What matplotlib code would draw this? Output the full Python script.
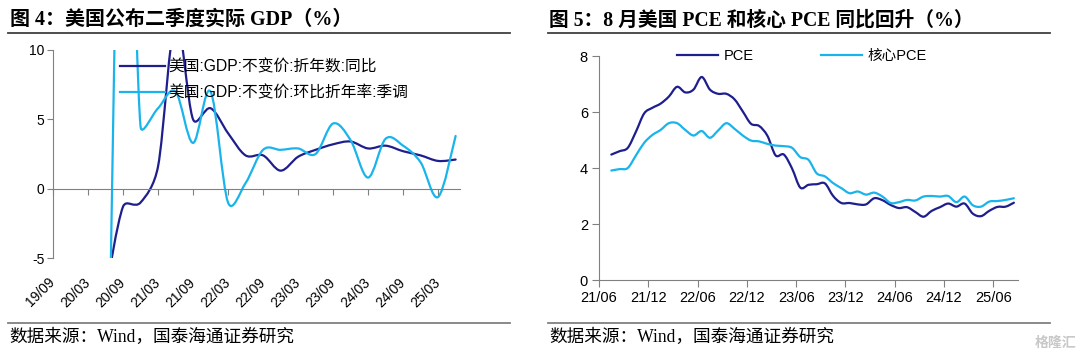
import numpy as np
import matplotlib
matplotlib.use('Agg')
import matplotlib.pyplot as plt
from matplotlib.path import Path
from matplotlib.patches import PathPatch
from matplotlib.lines import Line2D

# ---- left chart data: quarterly, 19/09 .. 25/06 ----
quarters = ['19/09', '19/12', '20/03', '20/06', '20/09', '20/12', '21/03', '21/06',
            '21/09', '21/12', '22/03', '22/06', '22/09', '22/12', '23/03', '23/06',
            '23/09', '23/12', '24/03', '24/06', '24/09', '24/12', '25/03', '25/06']
gdp_yoy = [np.nan, np.nan, np.nan, -7.5, -1.3, -1.0, 1.6, 12.1,
           5.0, 5.8, 4.0, 2.4, 2.4, 1.3, 2.3, 2.8,
           3.2, 3.4, 2.9, 3.1, 2.7, 2.4, 2.0, 2.1]
gdp_saar = [np.nan, np.nan, np.nan, -28.0, 34.8, 4.5, 5.8, 7.0,
            3.3, 7.0, -1.0, 0.4, 2.8, 2.8, 2.9, 2.5,
            4.7, 3.5, 0.8, 3.6, 3.1, 1.9, -0.6, 3.8]
gdp_names = ['美国:GDP:不变价:折年数:同比', '美国:GDP:不变价:环比折年率:季调']

# ---- right chart data: monthly, 2021/07 .. 2025/08 ----
months = ['%02d/%02d' % (21 + (6 + i) // 12, (6 + i) % 12 + 1) for i in range(50)]
pce = [4.48, 4.6, 4.72, 5.3, 5.95, 6.15, 6.3, 6.55, 6.9, 6.7,
       6.8, 7.25, 6.8, 6.65, 6.65, 6.45, 6.02, 5.58, 5.5, 5.15,
       4.45, 4.48, 3.98, 3.3, 3.4, 3.42, 3.45, 3.0, 2.75, 2.75,
       2.7, 2.7, 2.92, 2.85, 2.68, 2.57, 2.6, 2.43, 2.26, 2.47,
       2.6, 2.73, 2.62, 2.73, 2.37, 2.28, 2.47, 2.61, 2.62, 2.76]
core_pce = [3.91, 3.96, 4.0, 4.45, 4.9, 5.18, 5.36, 5.6, 5.6, 5.36,
            5.16, 5.32, 5.08, 5.34, 5.6, 5.4, 5.16, 4.98, 4.95, 4.86,
            4.8, 4.78, 4.72, 4.39, 4.29, 3.81, 3.7, 3.46, 3.28, 3.1,
            3.16, 3.05, 3.12, 2.98, 2.75, 2.78, 2.86, 2.84, 2.98, 3.0,
            2.98, 3.0, 2.78, 2.98, 2.67, 2.62, 2.8, 2.82, 2.86, 2.92]
pce_ticks = ['21/06', '21/12', '22/06', '22/12', '23/06', '23/12', '24/06', '24/12', '25/06']

DARK = '#1e1e8c'
LIGHT = '#1ab4ec'
GREY = '#808080'
TICKFONT = ['Liberation Sans', 'Noto Sans CJK SC']
SERIF = ['Liberation Serif', 'Noto Sans CJK SC']


def capped(h, L):
    # keep a bezier handle no longer than half the segment
    n = np.hypot(*h)
    if n > L / 2.0:
        h = h * (L / 2.0) / n
    return h


def smooth_line(ax, xs, ys, color, lw=1.6):
    # excel-like smoothed line, worked out in screen space
    xs = np.asarray(xs, float)
    ys = np.asarray(ys, float)
    ok = np.isfinite(ys)
    pts = ax.transData.transform(np.column_stack([xs[ok], ys[ok]]))
    n = len(pts)
    verts = [pts[0]]
    codes = [Path.MOVETO]
    for i in range(n - 1):
        p0 = pts[i - 1] if i > 0 else pts[i]
        p3 = pts[i + 2] if i + 2 < n else pts[i + 1]
        L = np.hypot(*(pts[i + 1] - pts[i]))
        c1 = pts[i] + capped((pts[i + 1] - p0) / 6.0, L)
        c2 = pts[i + 1] - capped((p3 - pts[i]) / 6.0, L)
        verts += [c1, c2, pts[i + 1]]
        codes += [Path.CURVE4] * 3
    verts = ax.transData.inverted().transform(np.array(verts))
    ax.add_patch(PathPatch(Path(verts, codes), fill=False, edgecolor=color,
                           lw=lw, capstyle='round', joinstyle='round'))


fig = plt.figure(figsize=(10.8, 3.61), dpi=100)
W, H = 1080.0, 361.0

# ---------------- left chart ----------------
ax1 = fig.add_axes([53 / W, 1 - 258 / H, 407 / W, 208 / H])
qx = np.arange(len(quarters))
ax1.set_xlim(0, 23.25)
ax1.set_ylim(-5, 10)
smooth_line(ax1, qx, gdp_yoy, DARK)
smooth_line(ax1, qx, gdp_saar, LIGHT)
ax1.set_yticks([-5, 0, 5, 10])
ax1.set_yticklabels(['-5', '0', '5', '10'], family=TICKFONT, fontsize=10)
for s in ['top', 'right']:
    ax1.spines[s].set_visible(False)
ax1.spines['left'].set_color(GREY)
ax1.spines['bottom'].set_color(GREY)
ax1.spines['bottom'].set_position(('data', 0))
ax1.set_xticks(qx[::2])
ax1.tick_params(axis='x', labelbottom=False, length=4, color=GREY, direction='out')
ax1.tick_params(axis='y', length=4, color=GREY, pad=2)
sec = ax1.secondary_xaxis('bottom')
sec.set_xticks(qx[::2])
sec.set_xticklabels(quarters[::2], rotation=45, ha='right', va='center',
                    rotation_mode='anchor', family=TICKFONT, fontsize=10)
sec.spines['bottom'].set_visible(False)
sec.tick_params(length=0, pad=16)

h1 = [Line2D([], [], color=DARK, lw=1.6), Line2D([], [], color=LIGHT, lw=1.6)]
ax1.legend(h1, gdp_names, loc='upper left', bbox_to_anchor=(0.148, 0.985), frameon=False,
           borderaxespad=0, handlelength=2.9, handletextpad=0.2, labelspacing=0.7,
           prop={'family': TICKFONT, 'size': 11.3})

# ---------------- right chart ----------------
ax2 = fig.add_axes([599 / W, 1 - 280 / H, 419 / W, 224 / H])
mx = np.arange(len(months)) + 1.5
ax2.set_xlim(0, 51)
ax2.set_ylim(0, 8)
smooth_line(ax2, mx, pce, DARK)
smooth_line(ax2, mx, core_pce, LIGHT)
ax2.set_yticks([0, 2, 4, 6, 8])
ax2.set_yticklabels(['0', '2', '4', '6', '8'], family=TICKFONT, fontsize=10.5)
ax2.set_xticks(np.arange(0, 49, 6))
ax2.set_xticklabels(pce_ticks, family=TICKFONT, fontsize=10.5)
for s in ['top', 'right']:
    ax2.spines[s].set_visible(False)
ax2.spines['left'].set_color(GREY)
ax2.spines['bottom'].set_color(GREY)
ax2.tick_params(length=5, color=GREY, pad=3)

h2 = [Line2D([], [], color=DARK, lw=1.6), Line2D([], [], color=LIGHT, lw=1.6)]
ax2.legend(h2, ['PCE', '核心PCE'], loc='center', bbox_to_anchor=(0.485, 1.0), ncol=2,
           frameon=False, handlelength=2.8, handletextpad=0.4, columnspacing=4.6,
           prop={'family': TICKFONT, 'size': 10.5})

# ---------------- titles, rules, source ----------------
fig.text(10 / W, 1 - 20 / H, '图 4：美国公布二季度实际 GDP（%）', family=SERIF,
         fontsize=14.4, fontweight='bold', va='center', ha='left')
fig.text(549 / W, 1 - 20 / H, '图 5：8 月美国 PCE 和核心 PCE 同比回升（%）', family=SERIF,
         fontsize=14.2, fontweight='bold', va='center', ha='left')
for x0, x1 in [(8, 510), (548, 1050)]:
    fig.add_artist(Line2D([x0 / W, x1 / W], [1 - 33 / H] * 2, color='#404040', lw=1.3))
    fig.add_artist(Line2D([x0 / W, x1 / W], [1 - 323 / H] * 2, color=GREY, lw=1.3))
for x0 in [9, 549]:
    fig.text(x0 / W, 1 - 337 / H, '数据来源：Wind，国泰海通证券研究', family=SERIF,
             fontsize=12.7, va='center', ha='left')
fig.text(1076 / W, 1 - 343 / H, '格隆汇', family=TICKFONT, fontsize=10,
         color='#c8c8c8', va='center', ha='right', fontweight='bold')

fig.savefig('out.png', dpi=100)
